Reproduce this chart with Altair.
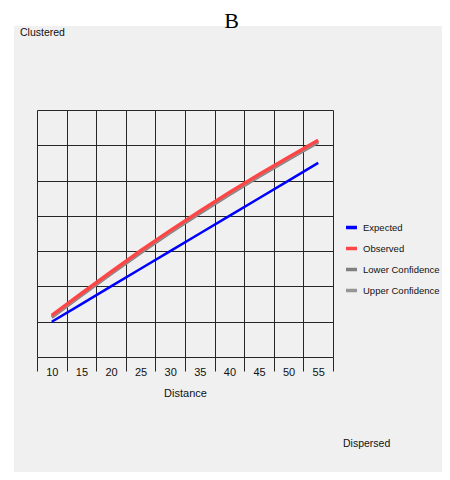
import altair as alt
import pandas as pd

distance = [10, 15, 20, 25, 30, 35, 40, 45, 50, 55]
expected = [10, 15, 20, 25, 30, 35, 40, 45, 50, 55]
observed = [11.8, 18.0, 24.1, 30.1, 35.8, 41.3, 46.6, 51.7, 56.6, 61.4]
lower_conf = [11.2, 17.4, 23.5, 29.5, 35.2, 40.7, 46.0, 51.1, 56.0, 60.8]
upper_conf = [11.5, 17.7, 23.8, 29.8, 35.5, 41.0, 46.3, 51.4, 56.3, 61.1]
series_names = ["Expected", "Observed", "Lower Confidence", "Upper Confidence"]
series_colors = ["#0000ff", "#ff4646", "#808080", "#969696"]
grid_x = [7.5, 12.5, 17.5, 22.5, 27.5, 32.5, 37.5, 42.5, 47.5, 52.5, 57.5]
grid_y = [0, 10, 20, 30, 40, 50, 60, 70]

FONT = "Liberation Sans, Arial, sans-serif"

rows = []
for name, vals in zip(series_names, [expected, observed, lower_conf, upper_conf]):
    for d, v in zip(distance, vals):
        rows.append({"Distance": d, "value": v, "series": name})
df = pd.DataFrame(rows)

W, H = 296, 247

color = alt.Color(
    "series:N",
    scale=alt.Scale(domain=series_names, range=series_colors),
    legend=alt.Legend(
        title=None, orient="none", legendX=307, legendY=110,
        symbolType="stroke", symbolSize=121, symbolStrokeWidth=3.5,
        labelFont=FONT, labelFontSize=9.5, labelColor="#111",
        rowPadding=6, labelOffset=4, symbolOffset=0, labelLimit=200,
    ),
)

x = alt.X(
    "Distance:Q",
    scale=alt.Scale(domain=[7.5, 57.5], nice=False, zero=False),
    axis=alt.Axis(
        values=grid_x, grid=True, gridColor="#262626", gridOpacity=1,
        tickSize=14, tickColor="#262626", domain=False, labelFlush=False,
        labelExpr="datum.value < 57 ? format(datum.value + 2.5, 'd') : ''",
        labelOffset=14.8, labelPadding=-5, labelFont=FONT, labelFontSize=11,
        labelColor="#111", title="Distance", titleFont=FONT, titleFontSize=11,
        titleFontWeight="normal", titleColor="#111", titlePadding=10,
    ),
)
y = alt.Y(
    "value:Q",
    scale=alt.Scale(domain=[0, 70], nice=False),
    axis=alt.Axis(values=grid_y, grid=True, gridColor="#262626", gridOpacity=1,
                  labels=False, ticks=False, domain=False, title=None),
)

# white strips outside the grey panel (chart background is the panel grey)
strip_top = alt.Chart(pd.DataFrame({"k": [0]})).mark_rect(color="white").encode(
    x=alt.value(-40), x2=alt.value(430), y=alt.value(-110), y2=alt.value(-84)
)
strip_left = alt.Chart(pd.DataFrame({"k": [0]})).mark_rect(color="white").encode(
    x=alt.value(-40), x2=alt.value(-23), y=alt.value(-110), y2=alt.value(380)
)

base = alt.Chart(df)
conf = base.transform_filter(
    alt.FieldOneOfPredicate(field="series", oneOf=["Lower Confidence", "Upper Confidence"])
).mark_line(strokeWidth=3).encode(x=x, y=y, color=color, detail="series:N")
exp_line = base.transform_filter(alt.datum.series == "Expected").mark_line(
    strokeWidth=2.5).encode(x=x, y=y, color=color)
obs_line = base.transform_filter(alt.datum.series == "Observed").mark_line(
    strokeWidth=3.5).encode(x=x, y=y, color=color)

title_txt = alt.Chart(pd.DataFrame({"t": ["B"]})).mark_text(
    font="Liberation Serif, serif", fontSize=22, align="center", baseline="alphabetic",
    color="#000").encode(x=alt.value(194.5), y=alt.value(-82), text="t:N")
clustered = alt.Chart(pd.DataFrame({"t": ["Clustered"]})).mark_text(
    font=FONT, fontSize=10.5, align="left", baseline="middle", color="#111").encode(
    x=alt.value(-17), y=alt.value(-77), text="t:N")
dispersed = alt.Chart(pd.DataFrame({"t": ["Dispersed"]})).mark_text(
    font=FONT, fontSize=10.5, align="left", baseline="middle", color="#111").encode(
    x=alt.value(306), y=alt.value(334), text="t:N")

chart = alt.layer(strip_top, strip_left, conf, exp_line, obs_line,
                  title_txt, clustered, dispersed).properties(
    width=W, height=H,
    autosize=alt.AutoSizeParams(type="none"),
    padding={"left": 29, "top": 102, "right": 109, "bottom": 115},
    background="#f0f0f0",
).configure_view(strokeOpacity=0)

chart.save("out.html", embed_options={"renderer": "svg", "actions": False})
